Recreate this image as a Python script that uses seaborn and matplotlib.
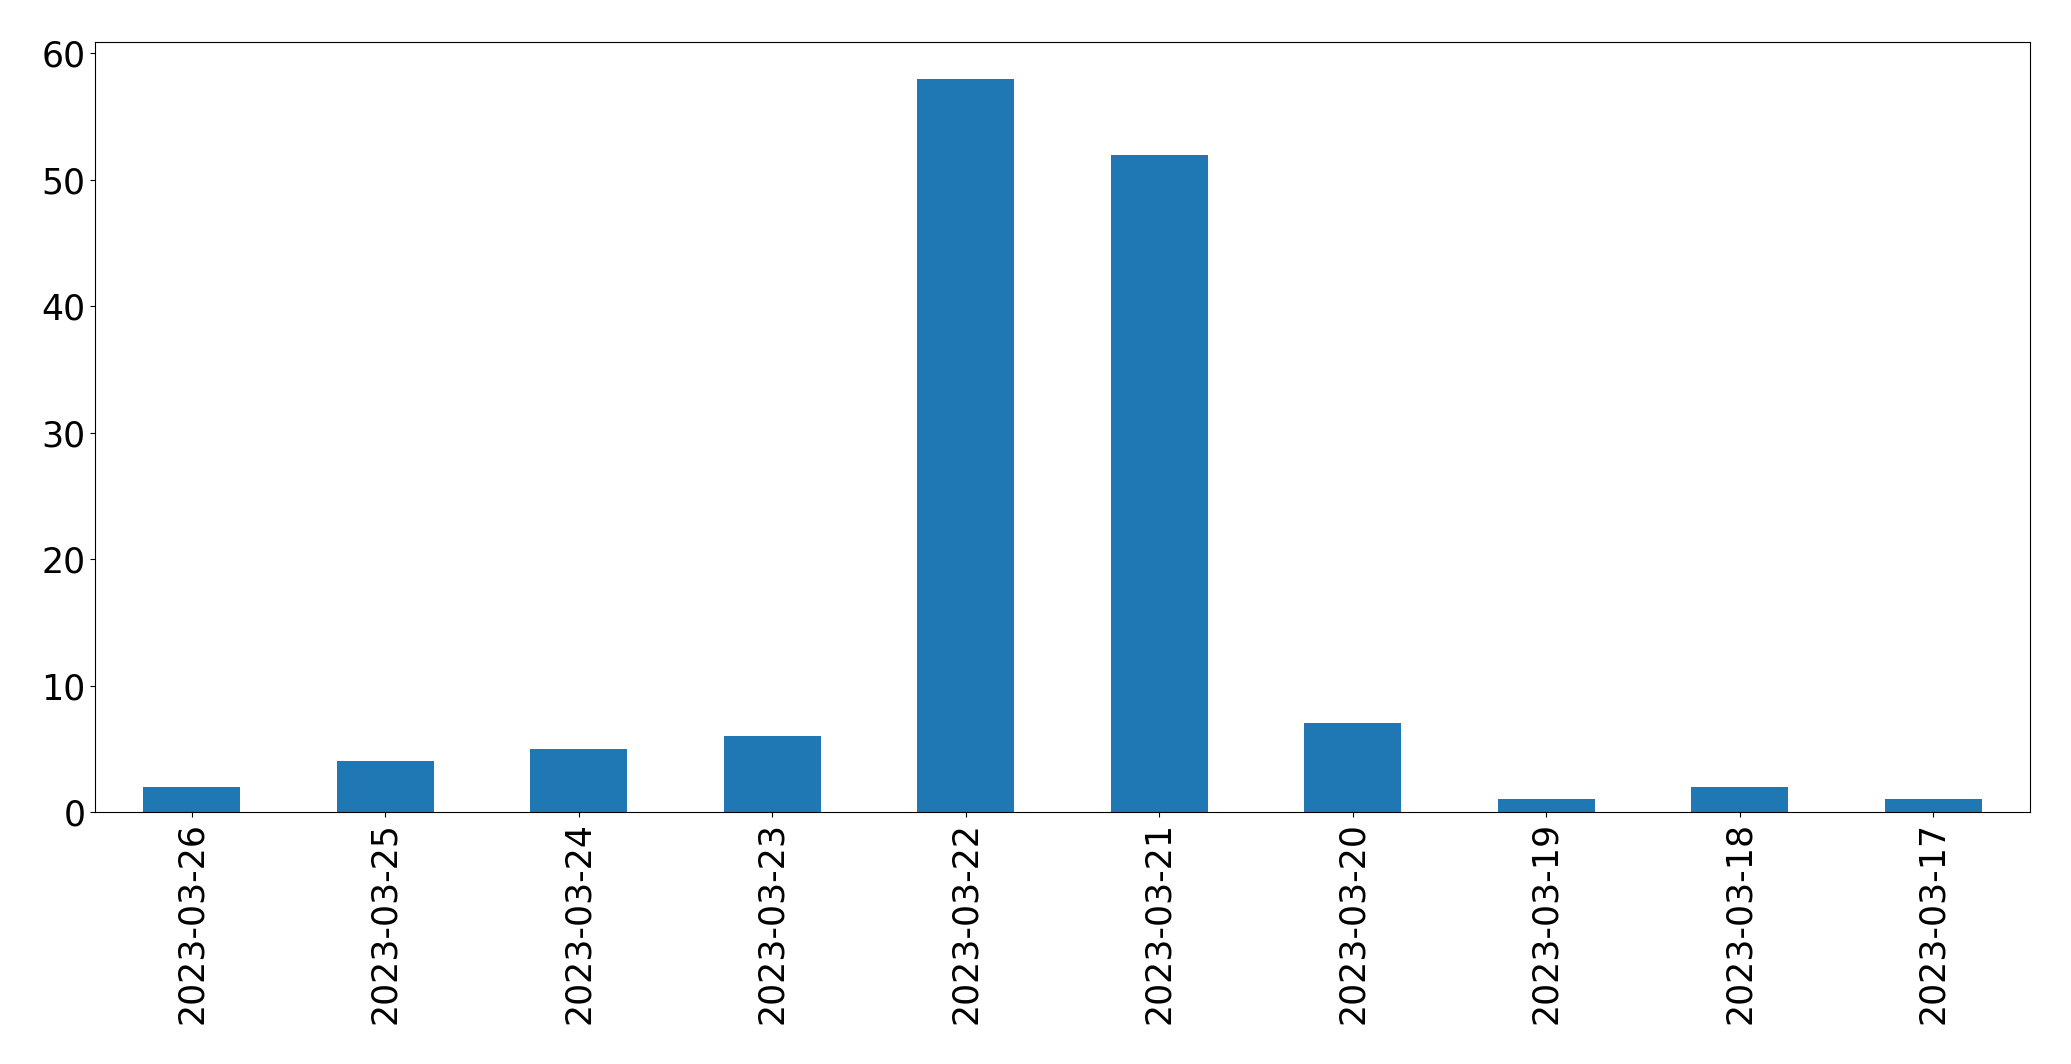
import matplotlib
matplotlib.use("Agg")
import matplotlib.pyplot as plt
import seaborn as sns
import pandas as pd

dates = ["2023-03-26", "2023-03-25", "2023-03-24", "2023-03-23", "2023-03-22",
         "2023-03-21", "2023-03-20", "2023-03-19", "2023-03-18", "2023-03-17"]
counts = [2, 4, 5, 6, 58, 52, 7, 1, 2, 1]

df = pd.DataFrame({"date": dates, "count": counts})

fig = plt.figure(figsize=(20.71, 10.64), dpi=100)
ax = fig.add_axes([95 / 2071, 1 - 812 / 1064, (2030 - 95) / 2071, (812 - 42) / 1064])
sns.barplot(data=df, x="date", y="count", order=dates, color="#1f77b4",
            saturation=1, width=0.5, linewidth=0, ax=ax)
ax.set_xlim(-0.5, 9.5)
ax.set_ylim(0, 60.9)
ax.set_xlabel("")
ax.set_ylabel("")
ax.tick_params(axis="both", labelsize=25)
plt.setp(ax.get_xticklabels(), rotation=90)
fig.savefig("out.png", dpi=100)
